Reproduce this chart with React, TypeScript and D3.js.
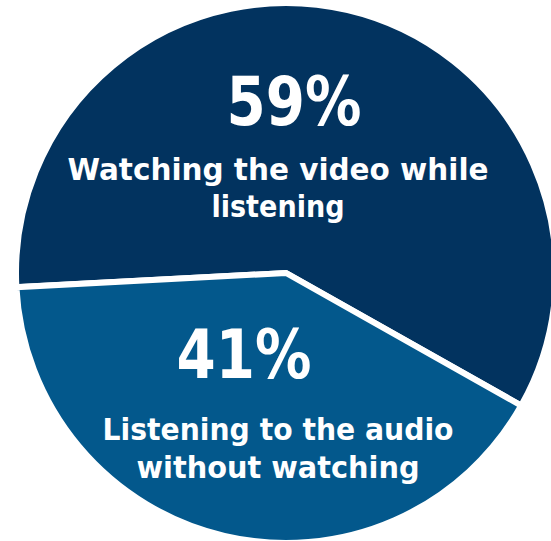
import React from "react";
import * as d3 from "d3";

const categories = ["Watching the video while listening", "Listening to the audio without watching"];
const values = [59, 41];
const percentLabels = ["59%", "41%"];
const labelLines = [
  ["Watching the video while", "listening"],
  ["Listening to the audio", "without watching"],
];
const colors = ["#02335F", "#03588C"];

// layout (pixels)
const W = 551;
const H = 541;
const CX = 286;
const CY = 273;
const R = 267;
const START_DEG = -93;
const layout = [
  { pctX: 294, pctY: 125, lineX: 278, lineY: [180, 217] },
  { pctX: 244, pctY: 378, lineX: 278, lineY: [440, 478] },
];
const lineWidths = [
  [421, 133],
  [351, 283],
];
const pctWidths = [135, 135];

export default function App() {
  const pie = d3
    .pie<number>()
    .sort(null)
    .value((d) => d)
    .startAngle((START_DEG * Math.PI) / 180)
    .endAngle(((START_DEG + 360) * Math.PI) / 180);
  const arcs = pie(values);
  const arc = d3.arc<d3.PieArcDatum<number>>().innerRadius(0).outerRadius(R + 3);
  const font = "'DejaVu Sans', 'Noto Sans', sans-serif";

  return (
    <svg
      width={W}
      height={H}
      style={{ position: "absolute", left: 0, top: 0, background: "#fff" }}
    >
      <g transform={`translate(${CX},${CY})`}>
        {arcs.map((a, i) => (
          <path
            key={categories[i]}
            d={arc(a) || ""}
            fill={colors[i]}
            stroke="#ffffff"
            strokeWidth={6}
            strokeLinejoin="miter"
          />
        ))}
      </g>
      {arcs.map((a, i) => (
        <g key={"lbl" + i} fill="#ffffff" fontFamily={font} fontWeight="bold">
          <text
            x={layout[i].pctX}
            y={layout[i].pctY}
            textAnchor="middle"
            fontSize={68}
            textLength={pctWidths[i]}
            lengthAdjust="spacingAndGlyphs"
          >
            {percentLabels[i]}
          </text>
          {labelLines[i].map((ln, j) => (
            <text
              key={j}
              x={layout[i].lineX}
              y={layout[i].lineY[j]}
              textAnchor="middle"
              fontSize={30}
              textLength={lineWidths[i][j]}
              lengthAdjust="spacingAndGlyphs"
            >
              {ln}
            </text>
          ))}
        </g>
      ))}
    </svg>
  );
}
